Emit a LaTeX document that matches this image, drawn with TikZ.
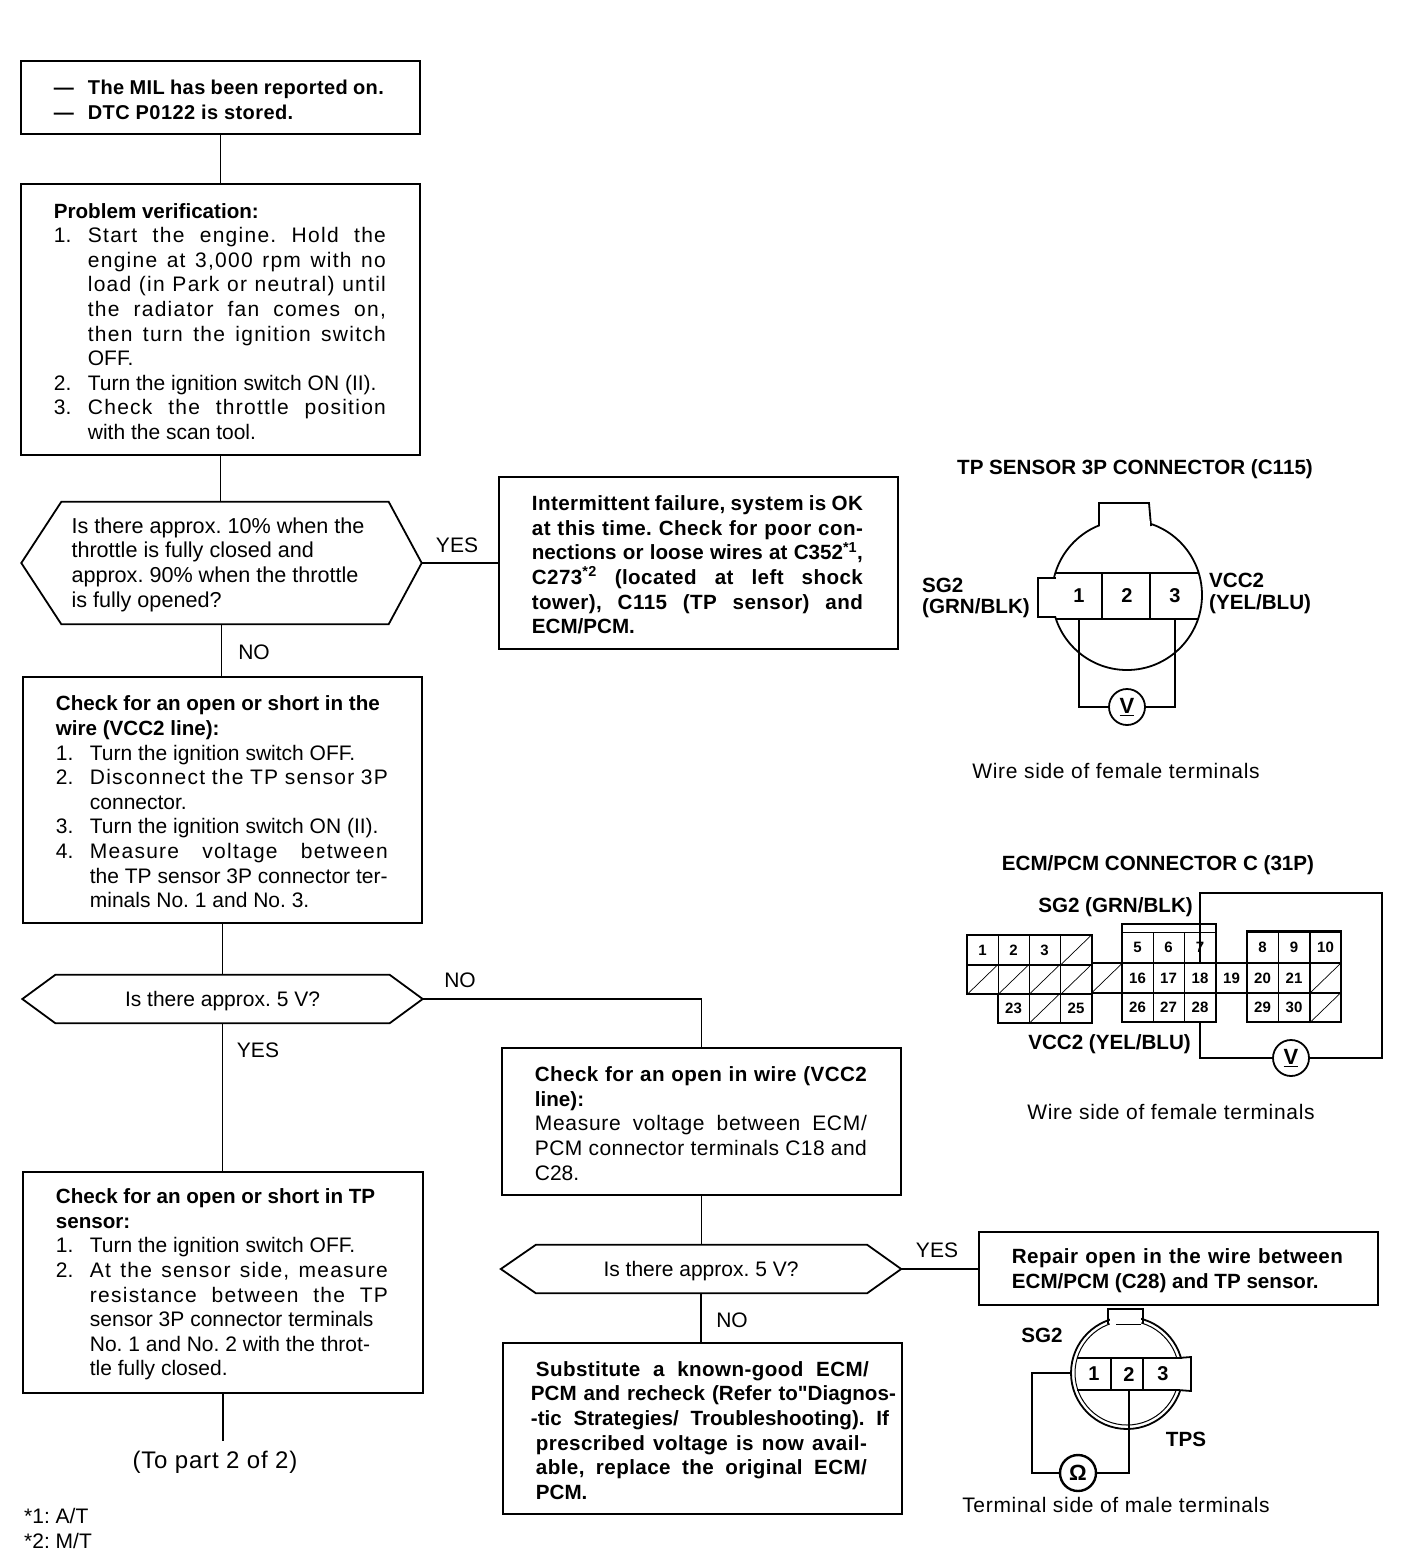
\documentclass[tikz,border=0pt]{standalone}
\usepackage{fontspec}
\setmainfont{Liberation Sans}
\newfontfamily\spfont[LetterSpace=6]{Liberation Sans}
\newfontfamily\lsfont[LetterSpace=3.3]{Liberation Sans}
\newfontfamily\bsfont[LetterSpace=2]{Liberation Sans}
\newfontfamily\qfont{Liberation Sans}
\newcommand{\fitline}[2][332pt]{\makebox[#1][s]{\spaceskip=0pt\xspaceskip=0pt #2}}
\newcommand{\numl}[2]{\makebox[34pt][l]{#1}\makebox[298pt][l]{#2}}
\newcommand{\contl}[1]{\hspace*{34pt}\makebox[298pt][l]{#1}}
\newcommand{\hd}{\fontsize{20.6}{24.6}\selectfont\bfseries}
\newcommand{\hexline}[3]{% node, left cut, right cut
    \draw[link] (#1.west) -- ([xshift=#2]#1.north west) -- ([xshift=-#3]#1.north east)
        -- (#1.east) -- ([xshift=-#3]#1.south east) -- ([xshift=#2]#1.south west) -- cycle;}
\def\nw{298pt}
\tikzset{
    every node/.style={font=\fontsize{21}{24.6}\selectfont\frenchspacing},
    box/.style={draw, line width=1.8pt, inner xsep=33pt, inner ysep=0pt, align=flush left, anchor=north west,
        execute at begin node={\rule{0pt}{19pt}\ignorespaces}},
    hexbox/.style={inner sep=0pt, minimum height=#1, minimum width=400pt, align=flush left,
        execute at begin node={\rule{0pt}{19pt}\ignorespaces}},
    link/.style={line width=1.8pt},
    wire/.style={line width=1.8pt},
    outline/.style={line width=2.6pt},
    lab/.style={inner sep=0pt},
    pinlab/.style={font=\hd\frenchspacing, inner sep=0pt},
    meter/.style={draw, circle, line width=1.8pt, fill=white, minimum size=36pt, inner sep=0pt, font=\fontsize{22}{24}\selectfont\bfseries},
    pin/.style={draw, line width=0.7pt, inner sep=0pt, minimum width=31pt, minimum height=30pt, font=\fontsize{15}{16}\selectfont\bfseries},
    slot/.style={inner sep=0pt, minimum width=46pt, minimum height=46pt, font=\fontsize{20}{22}\selectfont\bfseries},
}
\begin{document}
\begin{tikzpicture}[x=1pt,y=-1pt]
    \useasboundingbox (0,0) rectangle (1408,1564);
    % left column
    \node[box, text width=333pt, minimum height=73pt] (box1) at (20,60) {\fontsize{20}{24.6}\selectfont\bfseries
        \numl{---}{\fitline[296pt]{\bsfont The MIL has been reported on.}}\\
        \numl{---}{\bsfont DTC P0122 is stored.}};
    \node[box, text width=333pt, minimum height=271pt] (box2) at (20,183) {
        {\hd Problem verification:}\\
        \numl{1.}{\fitline[\nw]{\spfont Start the engine. Hold the}}\\
        \contl{\fitline[\nw]{\spfont engine at 3,000 rpm with no}}\\
        \contl{\fitline[\nw]{\spfont load (in Park or neutral) until}}\\
        \contl{\fitline[\nw]{\spfont the radiator fan comes on,}}\\
        \contl{\fitline[\nw]{\spfont then turn the ignition switch}}\\
        \contl{OFF.}\\
        \numl{2.}{Turn the ignition switch ON (II).}\\
        \numl{3.}{\fitline[\nw]{\spfont Check the throttle position}}\\
        \contl{with the scan tool.}};
    \node[hexbox=122pt, text width=300pt, font=\fontsize{21.6}{24.6}\selectfont\frenchspacing] (dec1) at (221.5,563) {
        Is there approx. 10\% when the\\
        throttle is fully closed and\\
        approx. 90\% when the throttle\\
        is fully opened?};
    \hexline{dec1}{40pt}{33pt}
    \node[box, text width=333pt, minimum height=246pt] (box3) at (22,676) {
        {\hd Check for an open or short in the}\\
        {\hd wire (VCC2 line):}\\
        \numl{1.}{Turn the ignition switch OFF.}\\
        \numl{2.}{\fitline[\nw]{\spfont Disconnect the TP sensor 3P}}\\
        \contl{connector.}\\
        \numl{3.}{Turn the ignition switch ON (II).}\\
        \numl{4.}{\fitline[\nw]{\spfont Measure voltage between}}\\
        \contl{the TP sensor 3P connector ter-}\\
        \contl{minals No. 1 and No. 3.}};
    \node[hexbox=48pt] (dec2) at (222.5,999) {Is there approx. 5 V?};
    \hexline{dec2}{33pt}{33pt}
    \node[box, text width=334pt, minimum height=221pt] (box4) at (22,1171) {
        {\hd Check for an open or short in TP}\\
        {\hd sensor:}\\
        \numl{1.}{Turn the ignition switch OFF.}\\
        \numl{2.}{\fitline[\nw]{\spfont At the sensor side, measure}}\\
        \contl{\fitline[\nw]{\spfont resistance between the TP}}\\
        \contl{sensor 3P connector terminals}\\
        \contl{No. 1 and No. 2 with the throt-}\\
        \contl{tle fully closed.}};
    \node[lab, inner ysep=10pt, font=\fontsize{24}{24}\selectfont\lsfont] (topart) at (215,1462) {(To part 2 of 2)};
    \node[lab, anchor=west] (note1) at (24,1516) {*1: A/T};
    \node[lab, anchor=west] (note2) at (24,1541) {*2: M/T};
    % middle column
    \node[box, text width=333pt, minimum height=172pt] (box5) at (498,476) {\hd
        \fitline[331pt]{\bsfont Intermittent failure, system is OK}\\
        \fitline[331pt]{\bsfont at this time. Check for poor con-}\\
        \fitline[331pt]{nections or loose wires at C352\textsuperscript{*1},}\\
        \fitline[331pt]{\bsfont C273\textsuperscript{*2} (located at left shock}\\
        \fitline[331pt]{\bsfont tower), C115 (TP sensor) and}\\
        ECM/PCM.};
    \node[box, text width=333pt, minimum height=147pt] (box6) at (501,1047) {
        \fitline{\hd\bsfont Check for an open in wire (VCC2}\\
        {\hd line):}\\
        \fitline{\lsfont Measure voltage between ECM/}\\
        \fitline{\bsfont PCM connector terminals C18 and}\\
        C28.};
    \node[hexbox=48pt] (dec3) at (701,1269) {Is there approx. 5 V?};
    \hexline{dec3}{35pt}{34pt}
    \node[box, text width=333pt, minimum height=171pt] (box7) at (502,1342) {\hd
        \fitline[333pt]{\bsfont Substitute a known-good ECM/}\\
        \hspace*{-5pt}\makebox[333pt][l]{\fitline[365pt]{PCM and recheck (Refer to{\qfont"}Diagnos-}}\\
        \hspace*{-5pt}\makebox[333pt][l]{\fitline[358pt]{-tic Strategies/ Troubleshooting). If}}\\
        \fitline[331pt]{\bsfont prescribed voltage is now avail-}\\
        \fitline[331pt]{\bsfont able, replace the original ECM/}\\
        PCM.};
    \node[box, text width=333pt, minimum height=73pt] (box8) at (978,1231) {\hd
        \fitline[331pt]{\bsfont Repair open in the wire between}\\
        ECM/PCM (C28) and TP sensor.};
    % connectors
    \draw[link] (box1.south) -- (box1.south |- box2.north);
    \draw[link] (box2.south) -- (box2.south |- dec1.north);
    \draw[link] (dec1.south) -- (dec1.south |- box3.north);
    \draw[link] (dec1.east) -- (dec1.east -| box5.west);
    \draw[link] (box3.south) -- (box3.south |- dec2.north);
    \draw[link] (dec2.south) -- (dec2.south |- box4.north);
    \draw[link] (dec2.east) -| (box6.north);
    \draw[link] (box6.south) -- (box6.south |- dec3.north);
    \draw[link] (dec3.south) -- (dec3.south |- box7.north);
    \draw[link] (dec3.east) -- (dec3.east -| box8.west);
    \draw[link] (box4.south) -- (box4.south |- topart.north);
    \node[lab] (no1) at (254,652) {NO};
    \node[lab] (yes1) at (457,545) {YES};
    \node[lab] (no2) at (460,980) {NO};
    \node[lab] (yes2) at (258,1050) {YES};
    \node[lab] (no3) at (732,1320) {NO};
    \node[lab] (yes3) at (937,1250) {YES};
    % TP sensor connector
    \node[pinlab] (tptitle) at (1135,469) {TP SENSOR 3P CONNECTOR (C115)};
    \draw[wire] (1127,595) circle (75);
    \draw[wire, fill=white] (1099,526) -- (1099,503) -- (1149,503) -- (1151,526);
    \fill[white] (1100,521) rectangle (1150,530);
    \fill[white] (1040,579) rectangle (1062,616);
    \draw[wire] (1056,578) -- (1038,578) -- (1038,617) -- (1056,617);
    \draw[wire] (1056,573) -- (1198,573) (1056,619) -- (1198,619);
    \draw[wire] (1102,573) -- (1102,619) (1150,573) -- (1150,619);
    \node[slot] (tp1) at (1079,596) {1};
    \node[slot] (tp2) at (1127,596) {2};
    \node[slot] (tp3) at (1175,596) {3};
    \node[meter] (vm1) at (1127,707) {\underline{V}};
    \draw[wire] (vm1.west) -| (tp1.south);
    \draw[wire] (vm1.east) -| (tp3.south);
    \node[pinlab, anchor=west] (sg2a) at (922,585) {SG2};
    \node[pinlab, anchor=west] (sg2b) at (922,608) {(GRN/BLK)};
    \node[pinlab, anchor=west] (vcc2a) at (1209,580) {VCC2};
    \node[pinlab, anchor=west] (vcc2b) at (1209,604) {(YEL/BLU)};
    \node[lab, font=\fontsize{21}{24.6}\selectfont\lsfont] (wside1) at (1116,771) {Wire side of female terminals};
    % ECM/PCM connector
    \node[pinlab] (ecmtitle) at (1158,865) {ECM/PCM CONNECTOR C (31P)};
    \node[pinlab, anchor=east] (sg2c) at (1193,907) {SG2 (GRN/BLK)};
    \node[pinlab, anchor=east] (vcc2c) at (1191,1044) {VCC2 (YEL/BLU)};
    \foreach \n/\x/\y in {1/982.5/950, 2/1013.5/950, 3/1044.5/950,
        23/1013.5/1008.5, 25/1076/1008.5,
        5/1137.5/947.5, 6/1168.5/947.5, 7/1200/947.5,
        16/1137.5/978, 17/1168.5/978, 18/1200/978,
        26/1137.5/1007.5, 27/1168.5/1007.5, 28/1200/1007.5,
        19/1231.5/978,
        8/1262.5/947, 9/1294/947, 10/1325.5/947,
        20/1262.5/978, 21/1294/978,
        29/1262.5/1007.5, 30/1294/1007.5} {
        \node[pin] (c\n) at (\x,\y) {\n};
    }
    \foreach \n/\x/\y in {a/1076/950, b/982.5/979.5, d/1013.5/979.5, e/1044.5/979.5, f/1076/979.5, g/1107/978,
        h/1044.5/1008.5, i/1325.5/978, j/1325.5/1007.5} {
        \node[pin] (slash\n) at (\x,\y) {};
        \draw[line width=0.7pt] (slash\n.south west) -- (slash\n.north east);
    }
    \draw[outline] (967,935) -- (1092,935) -- (1092,1023) -- (998,1023) -- (998,994) -- (967,994) -- cycle;
    \draw[outline] (1122,924) rectangle (1216,1022);
    \draw[outline] (1247,931) rectangle (1341,1022);
    \draw[outline] (1092,963) -- (1122,963) (1092,993) -- (1122,993);
    \draw[outline] (1216,963) -- (1247,963) (1216,993) -- (1247,993);
    \node[meter] (vm2) at (1291,1058) {\underline{V}};
    \draw[wire] (c18.north) -- (1200,893) -- (1382,893) |- (vm2.east);
    \draw[wire] (vm2.west) -| (c28.south);
    \node[lab, font=\fontsize{21}{24.6}\selectfont\lsfont] (wside2) at (1171,1112) {Wire side of female terminals};
    % TPS connector
    \draw[wire, fill=white] (1108,1324) -- (1108,1309) -- (1143,1309) -- (1143,1324);
    \draw[wire] (1127,1373) circle (56);
    \draw[line width=1pt] (1127,1373) circle (52);
    \fill[white] (1110,1311) rectangle (1141,1325);
    \draw[line width=1pt] (1116,1324) -- (1141,1324);
    \fill[white] (1172,1359) rectangle (1190,1390);
    \draw[wire] (1178,1358) -- (1191,1357) -- (1191,1391) -- (1178,1390);
    \draw[wire] (1077,1358) -- (1178,1358) (1077,1390) -- (1178,1390);
    \draw[wire] (1111,1358) -- (1111,1390) (1143,1358) -- (1143,1390);
    \node[slot, minimum width=32pt, minimum height=32pt] (tps1) at (1094,1374) {1};
    \node[slot, minimum width=32pt, minimum height=32pt] (tps2) at (1129,1374) {2};
    \node[slot, minimum width=32pt, minimum height=32pt] (tps3) at (1163,1374) {3};
    \node[meter, line width=2.4pt] (ohm) at (1078,1473) {Ω};
    \draw[wire] (1072,1373) -| (1032,1473) -- (ohm.west);
    \draw[wire] (ohm.east) -| (tps2.south);
    \node[pinlab] (sg2d) at (1042,1335) {SG2};
    \node[pinlab] (tps) at (1186,1439) {TPS};
    \node[lab, font=\fontsize{21}{24.6}\selectfont\lsfont] (tside) at (1116,1505) {Terminal side of male terminals};
\end{tikzpicture}
\end{document}
